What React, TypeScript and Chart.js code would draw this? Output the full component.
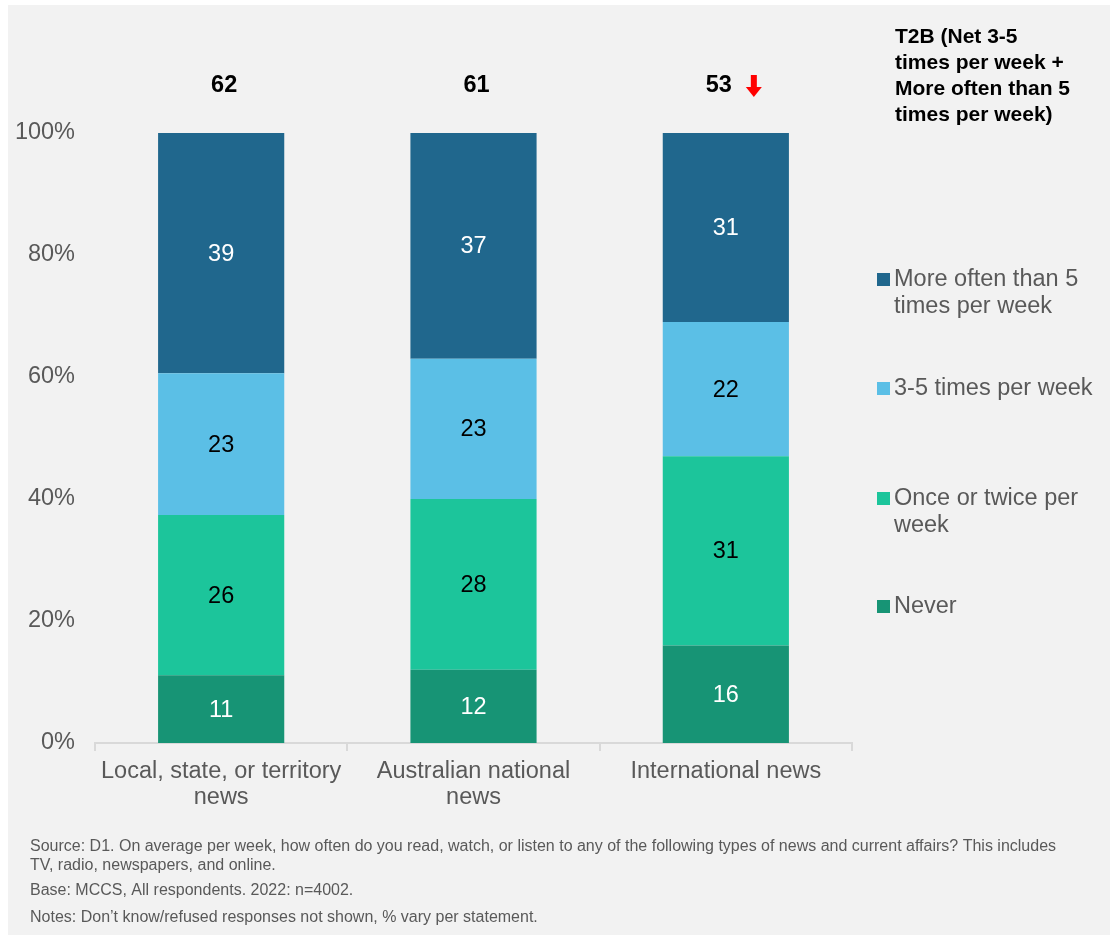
import React, { useEffect, useRef } from "react";
import { Chart, registerables } from "chart.js";

Chart.register(...registerables);

const categories: string[][] = [
  ["Local, state, or territory", "news"],
  ["Australian national", "news"],
  ["International news"],
];
const never = [11, 12, 16];
const onceTwice = [26, 28, 31];
const threeFive = [23, 23, 22];
const moreThan5 = [39, 37, 31];
const t2b = [62, 61, 53];
const t2bDown = [false, false, true];
const yTicks = [0, 20, 40, 60, 80, 100];

const seriesNames = ["Never", "Once or twice per week", "3-5 times per week", "More often than 5 times per week"];
const seriesValues = [never, onceTwice, threeFive, moreThan5];
const seriesColors = ["#179475", "#1CC59B", "#5BBFE6", "#20678D"];
const labelColors = ["#ffffff", "#000000", "#000000", "#ffffff"];

const legendItems: { lines: string[]; color: string }[] = [
  { lines: ["More often than 5", "times per week"], color: seriesColors[3] },
  { lines: ["3-5 times per week"], color: seriesColors[2] },
  { lines: ["Once or twice per", "week"], color: seriesColors[1] },
  { lines: ["Never"], color: seriesColors[0] },
];
const legendY = [275, 384, 494, 602];
const t2bTitle = ["T2B (Net 3-5", "times per week +", "More often than 5", "times per week)"];
const footnotes = [
  "Source: D1. On average per week, how often do you read, watch, or listen to any of the following types of news and current affairs? This includes",
  "TV, radio, newspapers, and online.",
  "Base: MCCS, All respondents. 2022: n=4002.",
  "Notes: Don\u2019t know/refused responses not shown, % vary per statement.",
];
const footY = [842, 861, 886, 913];

const FONT = '"Liberation Sans", Arial, sans-serif';
const SZ = 23.5;

const totals = categories.map((_, i) => seriesValues.reduce((s, arr) => s + arr[i], 0));

const overlay = {
  id: "overlay",
  afterDatasetsDraw(chart: any) {
    const ctx = chart.ctx as CanvasRenderingContext2D;
    ctx.save();
    // segment labels
    ctx.font = `${SZ}px ${FONT}`;
    ctx.textAlign = "center";
    ctx.textBaseline = "middle";
    chart.data.datasets.forEach((ds: any, di: number) => {
      const meta = chart.getDatasetMeta(di);
      meta.data.forEach((el: any, i: number) => {
        ctx.fillStyle = labelColors[di];
        ctx.fillText(String(ds.raw[i]), el.x, (el.y + el.base) / 2 + 1);
      });
    });
    // top T2B numbers
    const top = chart.getDatasetMeta(chart.data.datasets.length - 1);
    ctx.font = `bold ${SZ}px ${FONT}`;
    ctx.fillStyle = "#000";
    top.data.forEach((el: any, i: number) => {
      const x = t2bDown[i] ? el.x - 7 : el.x + 3;
      ctx.fillText(String(t2b[i]), x, 81);
      if (t2bDown[i]) {
        const ax = el.x + 28;
        ctx.fillStyle = "#ff0000";
        ctx.fillRect(ax - 3, 70, 6, 13);
        ctx.beginPath();
        ctx.moveTo(ax - 8, 82);
        ctx.lineTo(ax + 8, 82);
        ctx.lineTo(ax, 92);
        ctx.closePath();
        ctx.fill();
        ctx.fillStyle = "#000";
      }
    });
    // T2B title
    ctx.textAlign = "left";
    ctx.font = `bold 21px ${FONT}`;
    ctx.fillStyle = "#000";
    t2bTitle.forEach((t, i) => ctx.fillText(t, 887, 32 + i * 26));
    // legend
    ctx.font = `${SZ}px ${FONT}`;
    legendItems.forEach((it, k) => {
      const y = legendY[k];
      ctx.fillStyle = it.color;
      ctx.fillRect(869, y - 7, 13, 13);
      ctx.fillStyle = "#595959";
      it.lines.forEach((ln, j) => ctx.fillText(ln, 886, y + j * 27));
    });
    // footnotes
    ctx.font = `16px ${FONT}`;
    ctx.fillStyle = "#595959";
    footnotes.forEach((t, i) => ctx.fillText(t, 22, footY[i]));
    ctx.restore();
  },
};

export default function App() {
  const ref = useRef<HTMLCanvasElement | null>(null);
  useEffect(() => {
    if (!ref.current) return;
    const chart = new Chart(ref.current, {
      type: "bar",
      data: {
        labels: categories as any,
        datasets: seriesValues.map((vals, di) => ({
          label: seriesNames[di],
          data: vals.map((v, i) => (v / totals[i]) * 100),
          raw: vals,
          backgroundColor: seriesColors[di],
          borderWidth: 0,
          barPercentage: 0.5,
          categoryPercentage: 1,
        })) as any,
      },
      options: {
        animation: false,
        responsive: false,
        maintainAspectRatio: false,
        layout: { padding: { left: 0, right: 258, top: 128, bottom: 122 } },
        plugins: { legend: { display: false }, tooltip: { enabled: false } },
        scales: {
          x: {
            stacked: true,
            afterFit: (s: any) => {
              s.height = 70;
            },
            border: { color: "#d9d9d9", width: 2 },
            grid: {
              display: true,
              drawOnChartArea: false,
              drawTicks: true,
              tickLength: 8,
              color: "#d9d9d9",
              lineWidth: 2,
              offset: true,
            },
            ticks: {
              color: "#595959",
              font: { family: FONT, size: SZ, lineHeight: 26 / SZ },
              padding: 8,
              maxRotation: 0,
              autoSkip: false,
            },
          },
          y: {
            stacked: true,
            min: 0,
            max: 100,
            afterFit: (s: any) => {
              s.width = 87;
            },
            afterBuildTicks: (s: any) => {
              s.ticks = yTicks.map((v) => ({ value: v }));
            },
            grid: { display: false, drawTicks: false },
            border: { display: false },
            ticks: {
              color: "#595959",
              font: { family: FONT, size: SZ },
              padding: 20,
              callback: (v: any) => `${v}%`,
            },
          },
        },
      },
      plugins: [overlay],
    });
    return () => chart.destroy();
  }, []);
  return (
    <div
      style={{
        position: "absolute",
        left: 8,
        top: 5,
        width: 1102,
        height: 930,
        background: "#f2f2f2",
      }}
    >
      <canvas ref={ref} width={1102} height={930} style={{ display: "block" }} />
    </div>
  );
}
